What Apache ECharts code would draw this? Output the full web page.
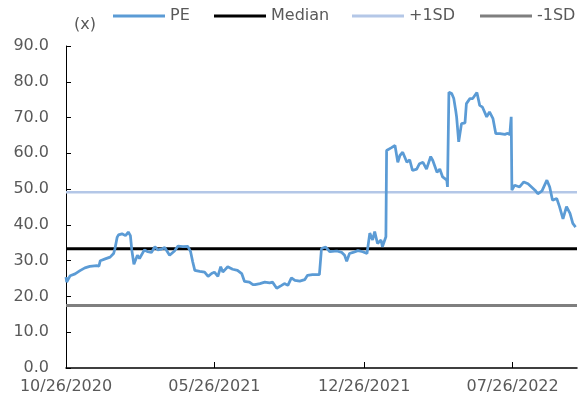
<!DOCTYPE html>
<html>
<head>
<meta charset="utf-8">
<script src="https://cdn.jsdelivr.net/npm/echarts@6/dist/echarts.min.js"></script>
<style>
  html, body { margin: 0; padding: 0; background: #fff; }
  #chart { width: 578px; height: 406px; }
</style>
</head>
<body>
<div id="chart"></div>
<script>
// PE history
var dates = [
  '2020-10-26','2020-10-27','2020-11-01','2020-11-08','2020-11-15','2020-11-22','2020-11-29','2020-12-09','2020-12-12','2020-12-14',
  '2020-12-21','2020-12-28','2021-01-02','2021-01-04','2021-01-07','2021-01-09','2021-01-14','2021-01-19','2021-01-23','2021-01-26',
  '2021-01-28','2021-01-31','2021-02-05','2021-02-08','2021-02-15','2021-02-20','2021-02-25','2021-03-02','2021-03-06','2021-03-11',
  '2021-03-16','2021-03-23','2021-03-30','2021-04-04','2021-04-11','2021-04-18','2021-04-22','2021-04-25','2021-04-28','2021-05-05',
  '2021-05-12','2021-05-17','2021-05-22','2021-05-26','2021-05-31','2021-06-04','2021-06-07','2021-06-14','2021-06-21','2021-06-28',
  '2021-07-04','2021-07-08','2021-07-15','2021-07-20','2021-07-23','2021-07-30','2021-08-06','2021-08-13','2021-08-17','2021-08-23',
  '2021-08-30','2021-09-03','2021-09-08','2021-09-13','2021-09-18','2021-09-25','2021-10-02','2021-10-06','2021-10-13','2021-10-23',
  '2021-10-25','2021-10-26','2021-11-01','2021-11-07','2021-11-17','2021-11-24','2021-11-28','2021-12-01','2021-12-05','2021-12-10',
  '2021-12-17','2021-12-24','2021-12-30','2022-01-03','2022-01-07','2022-01-10','2022-01-14','2022-01-19','2022-01-21','2022-01-26',
  '2022-01-27','2022-02-03','2022-02-08','2022-02-12','2022-02-15','2022-02-19','2022-02-25','2022-03-01','2022-03-05','2022-03-11',
  '2022-03-15','2022-03-20','2022-03-25','2022-03-31','2022-04-03','2022-04-09','2022-04-13','2022-04-17','2022-04-23','2022-04-24',
  '2022-04-26','2022-04-30','2022-05-03','2022-05-06','2022-05-07','2022-05-10','2022-05-14','2022-05-19','2022-05-21','2022-05-26',
  '2022-05-30','2022-06-05','2022-06-09','2022-06-13','2022-06-19','2022-06-23','2022-06-28','2022-07-02','2022-07-08','2022-07-15',
  '2022-07-19','2022-07-22','2022-07-24','2022-07-25','2022-07-29','2022-08-05','2022-08-11','2022-08-17','2022-08-22','2022-08-27',
  '2022-08-31','2022-09-06','2022-09-13','2022-09-17','2022-09-21','2022-09-27','2022-10-01','2022-10-06','2022-10-11','2022-10-16',
  '2022-10-20','2022-10-24'
];
var pe = [
  25.4, 24.0, 25.8, 26.3, 27.2, 28.0, 28.4, 28.6, 28.5, 30.0,
  30.5, 31.0, 32.0, 33.4, 36.5, 37.2, 37.5, 37.0, 38.0, 37.0,
  33.0, 29.0, 31.5, 30.6, 33.0, 32.5, 32.3, 33.9, 33.0, 33.2,
  33.7, 31.5, 32.7, 34.1, 33.9, 34.0, 32.5, 29.7, 27.3, 27.0,
  26.8, 25.6, 26.4, 26.8, 25.6, 28.3, 26.8, 28.3, 27.6, 27.3,
  26.4, 24.2, 24.0, 23.3, 23.3, 23.6, 24.0, 23.8, 24.0, 22.3,
  23.1, 23.6, 23.1, 25.2, 24.5, 24.3, 24.7, 25.9, 26.1, 26.1,
  26.3, 33.4, 33.8, 32.5, 32.7, 32.3, 31.5, 29.8, 32.0, 32.3,
  32.8, 32.5, 32.0, 37.7, 35.8, 38.1, 34.8, 35.8, 33.9, 36.7,
  60.8, 61.6, 62.2, 57.5, 59.4, 60.3, 57.5, 58.2, 55.2, 55.6,
  57.1, 57.5, 55.6, 59.1, 58.0, 54.7, 55.6, 53.4, 52.5, 50.6,
  77.1, 76.7, 75.3, 71.6, 70.2, 63.2, 68.3, 68.5, 73.9, 75.3,
  75.3, 77.0, 73.4, 72.9, 70.2, 71.6, 69.7, 65.5, 65.5, 65.3,
  65.6, 65.2, 70.2, 49.7, 51.1, 50.6, 52.0, 51.5, 50.6, 49.7,
  48.7, 49.5, 52.5, 50.6, 46.9, 47.4, 45.1, 41.7, 45.1, 43.2,
  40.4, 39.4
];
var median = 33.3;
var plus1SD = 49.1;
var minus1SD = 17.5;
var tickDates = ['2020-10-26', '2021-05-26', '2021-12-26', '2022-07-26'];
var xStart = '2020-10-26';
var xEnd = '2022-10-26';

var font = 'DejaVu Sans';
var textColor = '#595959';

// dates -> UTC ms so a plain value axis can hold them
function ms(s) {
  var p = s.split('-');
  return Date.UTC(+p[0], +p[1] - 1, +p[2]);
}
function pad(n) { return n < 10 ? '0' + n : '' + n; }
function flat(v) {
  return [[ms(xStart), v], [ms(xEnd), v]];
}
var tickMs = tickDates.map(ms);

function legendAt(left, name) {
  return {
    left: left, top: 8, padding: 0, icon: 'rect',
    itemWidth: 52, itemHeight: 3, itemGap: 0,
    data: [name],
    textStyle: { fontFamily: font, fontSize: 16, color: textColor }
  };
}

var chart = echarts.init(document.getElementById('chart'));
chart.setOption({
  animation: false,
  grid: { left: 66, right: 1, top: 46, bottom: 38 },
  legend: [
    legendAt(113, 'PE'),
    legendAt(214, 'Median'),
    legendAt(352, '+1SD'),
    legendAt(480, '-1SD')
  ],
  xAxis: {
    type: 'value',
    min: ms(xStart),
    max: ms(xEnd),
    splitLine: { show: false },
    axisLine: { lineStyle: { color: '#000', width: 1.5 } },
    axisTick: { show: true, inside: true, length: 6, customValues: tickMs, lineStyle: { color: '#000' } },
    axisLabel: {
      customValues: tickMs,
      margin: 11,
      fontFamily: font, fontSize: 16, color: textColor,
      formatter: function (v) {
        var d = new Date(v);
        return pad(d.getUTCMonth() + 1) + '/' + pad(d.getUTCDate()) + '/' + d.getUTCFullYear();
      }
    }
  },
  yAxis: {
    type: 'value',
    min: 0,
    max: 90,
    interval: 10,
    name: '(x)',
    nameLocation: 'end',
    nameGap: 13,
    nameTextStyle: { fontFamily: font, fontSize: 16, color: textColor, align: 'left', padding: [0, 0, 0, 8] },
    splitLine: { show: false },
    axisLine: { show: true, lineStyle: { color: '#000', width: 1 } },
    axisTick: { show: true, inside: true, length: 5, lineStyle: { color: '#000' } },
    axisLabel: {
      margin: 17,
      fontFamily: font, fontSize: 16, color: textColor,
      formatter: function (v) { return v.toFixed(1); }
    }
  },
  series: [
    {
      name: 'PE', type: 'line', symbol: 'none',
      data: dates.map(function (d, i) { return [ms(d), pe[i]]; }),
      lineStyle: { color: '#5B9BD5', width: 2.75 },
      itemStyle: { color: '#5B9BD5' },
      z: 5
    },
    {
      name: 'Median', type: 'line', symbol: 'none', data: flat(median),
      lineStyle: { color: '#000000', width: 3 }, itemStyle: { color: '#000000' }
    },
    {
      name: '+1SD', type: 'line', symbol: 'none', data: flat(plus1SD),
      lineStyle: { color: '#B4C7E7', width: 2.5 }, itemStyle: { color: '#B4C7E7' }
    },
    {
      name: '-1SD', type: 'line', symbol: 'none', data: flat(minus1SD),
      lineStyle: { color: '#7F7F7F', width: 3 }, itemStyle: { color: '#7F7F7F' }
    }
  ]
});
</script>
</body>
</html>
